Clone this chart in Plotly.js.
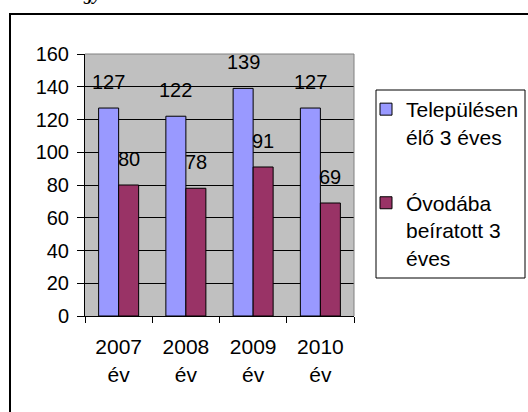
<!DOCTYPE html>
<html>
<head>
<meta charset="utf-8">
<script src="https://cdn.plot.ly/plotly-3.0.1.min.js"></script>
<style>
html,body{margin:0;padding:0;background:#fff;}
#chart{width:528px;height:412px;}
</style>
</head>
<body>
<div id="chart"></div>
<script>
// ---- data ----
var categories = ["2007<br>év", "2008<br>év", "2009<br>év", "2010<br>év"];
var seriesNames = ["Településen<br>élő 3 éves", "Óvodába<br>beíratott 3<br>éves"];
var livingValues = [127, 122, 139, 127];
var enrolledValues = [80, 78, 91, 69];
var yTickValues = [0, 20, 40, 60, 80, 100, 120, 140, 160];

// ---- styles / layout constants ----
var FONT = "Liberation Sans, Arial, sans-serif";
var W = 528, H = 412;
var M = {l: 85, r: 174, t: 54, b: 96, autoexpand: false};
var BARGAP = 0.405;
var plotW = W - M.l - M.r;
var plotH = H - M.t - M.b;
var barPx = plotW / categories.length * (1 - BARGAP) / 2;
function px2x(px) { return (px - M.l) / plotW; }
function px2y(py) { return (H - M.b - py) / plotH; }

var traces = [
  {type: "bar", name: seriesNames[0], x: categories, y: livingValues,
   legendgroup: "a",
   marker: {color: "#9999FF", line: {color: "#000000", width: 1}},
   hoverinfo: "y"},
  {type: "bar", name: seriesNames[1], x: categories, y: enrolledValues,
   legendgroup: "b",
   marker: {color: "#993366", line: {color: "#000000", width: 1}},
   hoverinfo: "y"}
];

var annotations = [];
function addLabels(vals, shift) {
  for (var i = 0; i < categories.length; i++) {
    annotations.push({
      x: categories[i], y: vals[i], xref: "x", yref: "y",
      text: String(vals[i]), showarrow: false,
      xanchor: "center", yanchor: "middle",
      xshift: shift, yshift: 26,
      font: {family: FONT, size: 20, color: "#000000"}
    });
  }
}
addLabels(livingValues, -barPx / 2);
addLabels(enrolledValues, barPx / 2);

// partial heading text cut off at the top of the image
annotations.push({
  xref: "paper", yref: "paper", x: px2x(92), y: px2y(6),
  xanchor: "center", yanchor: "bottom", showarrow: false,
  text: "<b><i>gy</i></b>",
  font: {family: "Liberation Serif, Times New Roman, serif", size: 18, color: "#000000"}
});

var layout = {
  width: W, height: H,
  margin: M,
  paper_bgcolor: "#FFFFFF",
  plot_bgcolor: "#C0C0C0",
  barmode: "group",
  bargap: BARGAP,
  bargroupgap: 0,
  font: {family: FONT, size: 20, color: "#000000"},
  showlegend: true,
  legend: {
    x: px2x(366), xanchor: "left", y: px2y(89), yanchor: "top",
    borderwidth: 0, bgcolor: "rgba(0,0,0,0)",
    font: {family: FONT, size: 21, color: "#000000"},
    traceorder: "grouped", tracegroupgap: 36, valign: "top"
  },
  xaxis: {
    type: "category",
    tickson: "boundaries",
    ticks: "outside", ticklen: 6, tickcolor: "#000000", tickwidth: 1,
    ticklabelstandoff: 12,
    showline: true, linecolor: "#000000", linewidth: 1,
    showgrid: false, zeroline: false,
    tickfont: {family: FONT, size: 21, color: "#000000"},
    fixedrange: true
  },
  yaxis: {
    range: [0, 160],
    tickmode: "array", tickvals: yTickValues,
    ticks: "outside", ticklen: 7, tickcolor: "#000000", tickwidth: 1,
    ticklabelstandoff: 4,
    showline: true, linecolor: "#000000", linewidth: 1,
    showgrid: true, gridcolor: "#000000", gridwidth: 1,
    zeroline: false,
    tickfont: {family: FONT, size: 20, color: "#000000"},
    fixedrange: true
  },
  shapes: [
    // plot area border (top and right), gray
    {type: "path", xref: "paper", yref: "paper", path: "M0,1 L1,1 L1,0",
     line: {color: "#808080", width: 1}, layer: "above"},
    // legend frame
    {type: "rect", xref: "paper", yref: "paper",
     x0: px2x(376), x1: px2x(525), y0: px2y(278), y1: px2y(90),
     line: {color: "#000000", width: 1}, fillcolor: "rgba(0,0,0,0)", layer: "above"},
    // outer chart frame (extends beyond the visible image)
    {type: "rect", xref: "paper", yref: "paper",
     x0: px2x(10), x1: px2x(560), y0: px2y(440), y1: px2y(14),
     line: {color: "#000000", width: 2}, fillcolor: "rgba(0,0,0,0)", layer: "below"}
  ],
  annotations: annotations
};

Plotly.newPlot("chart", traces, layout, {displayModeBar: false, staticPlot: true});
</script>
</body>
</html>
